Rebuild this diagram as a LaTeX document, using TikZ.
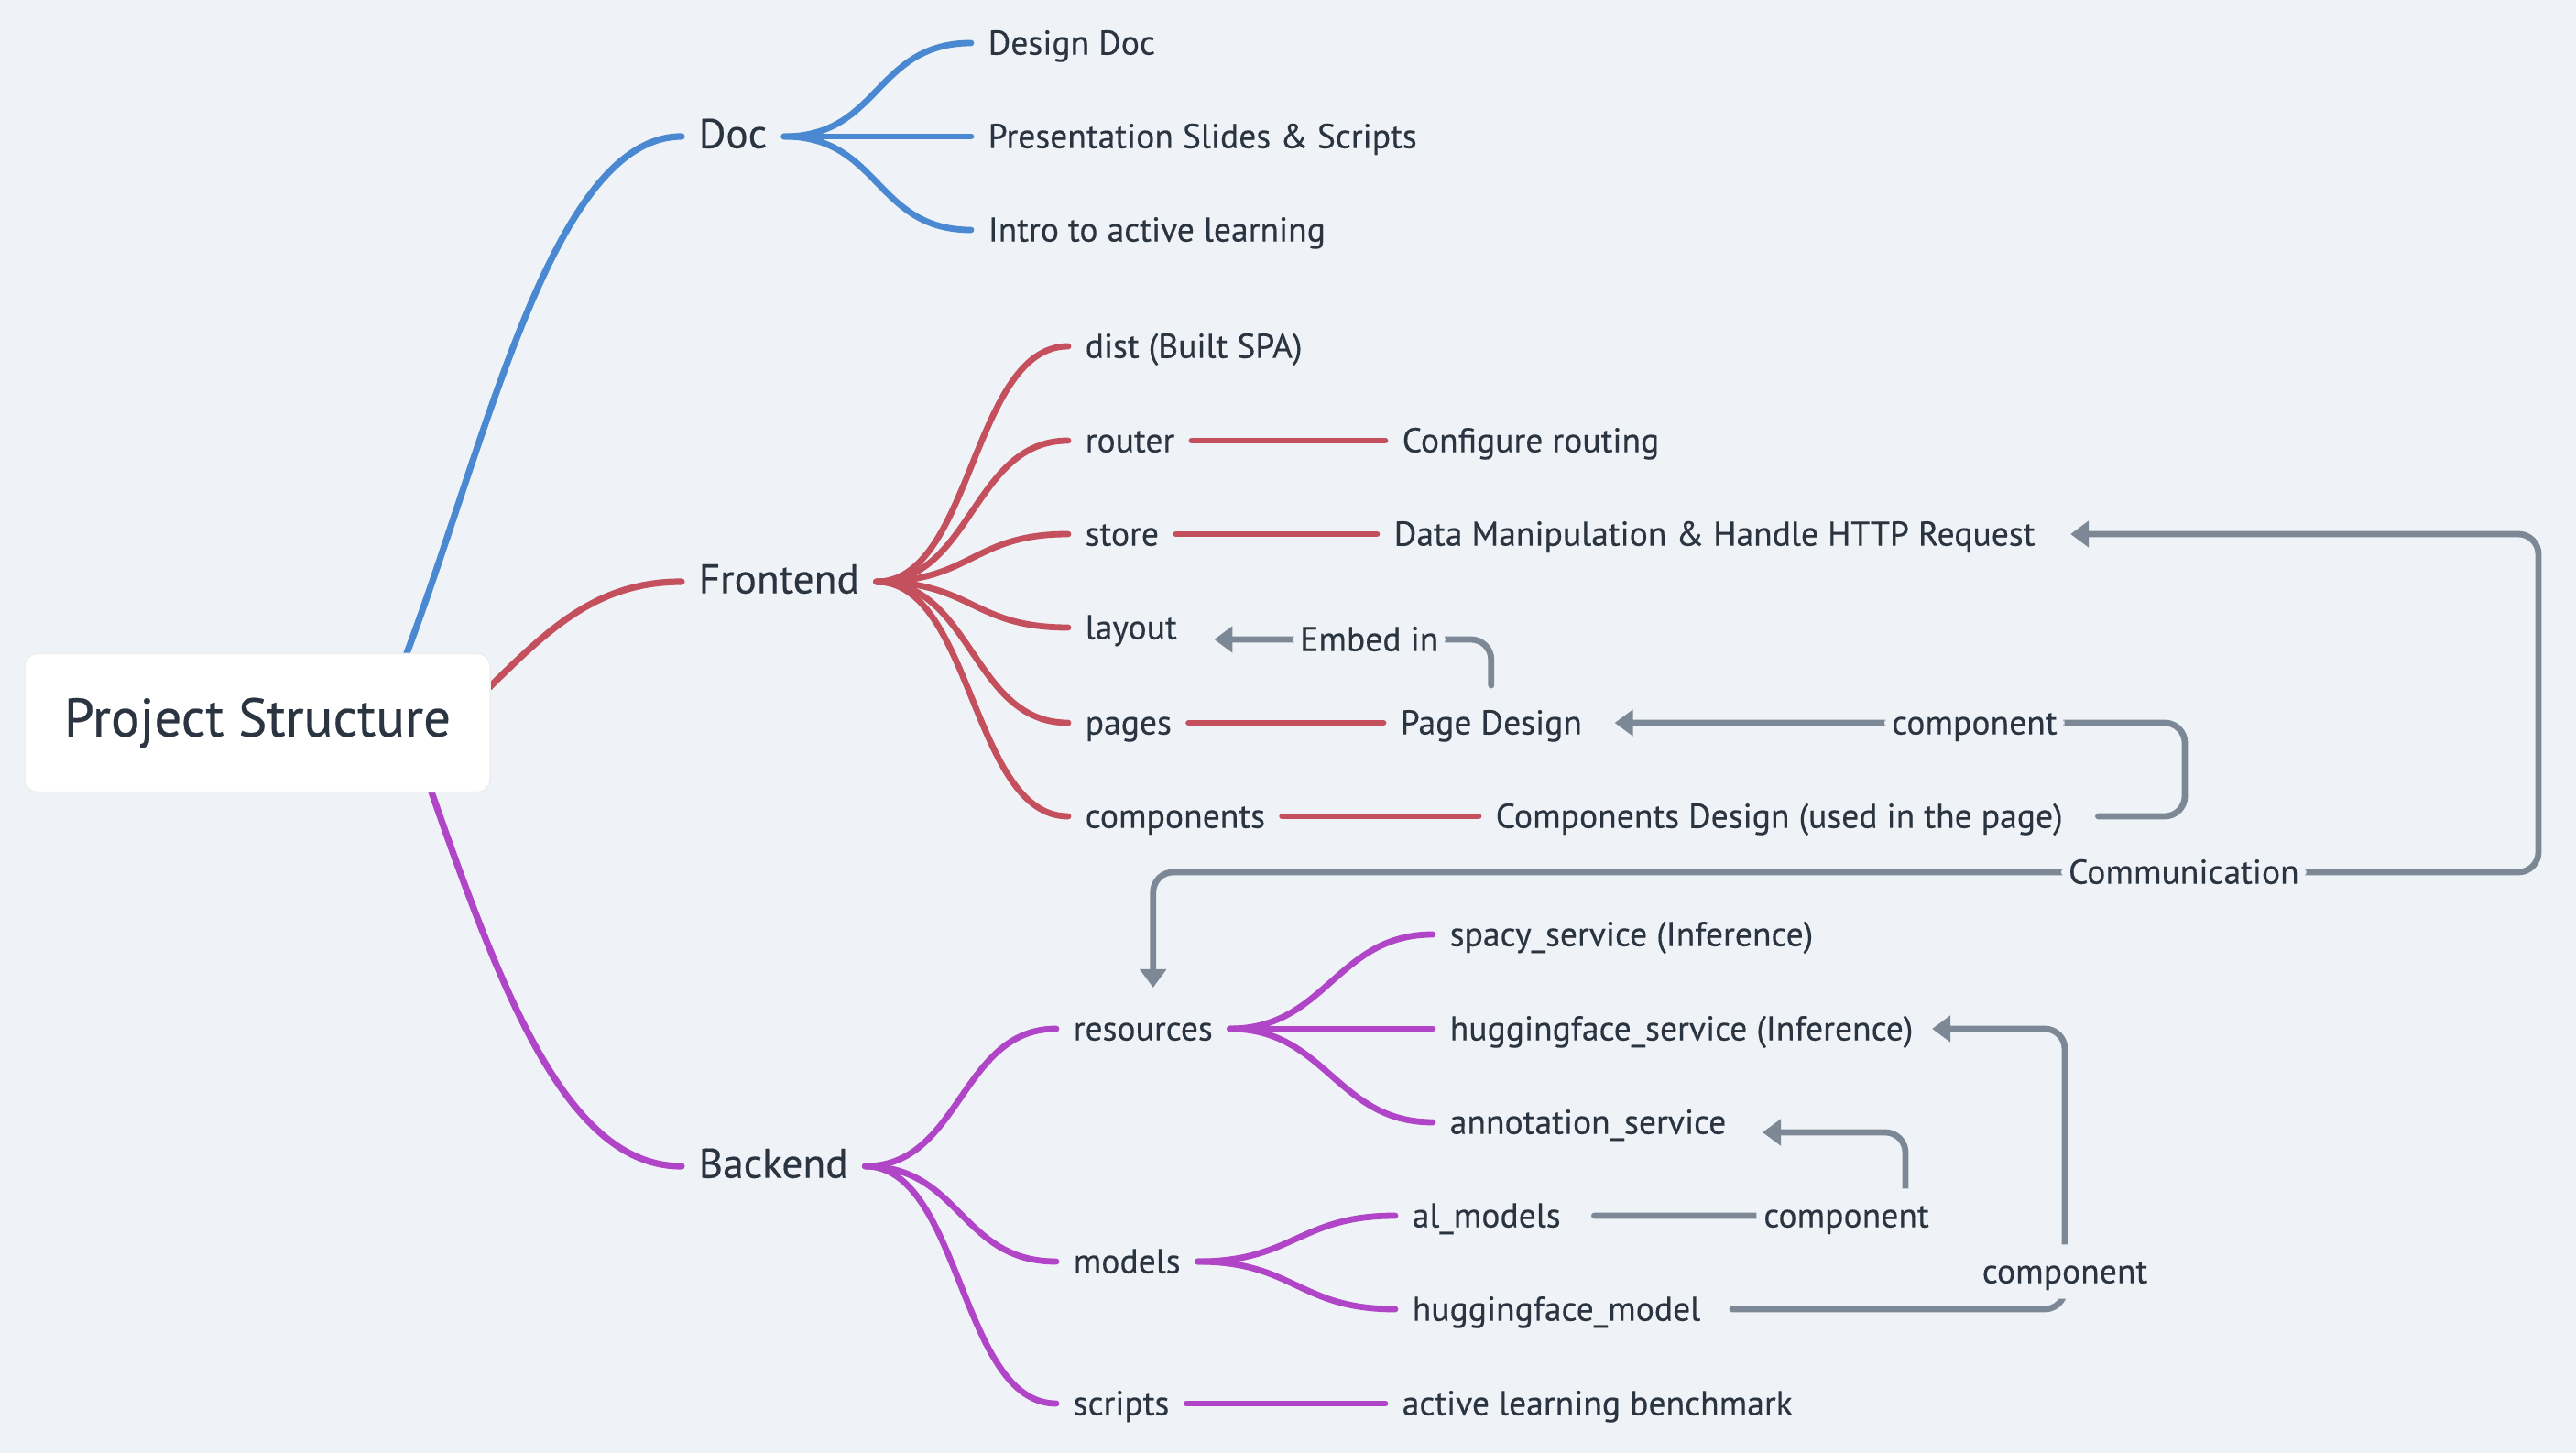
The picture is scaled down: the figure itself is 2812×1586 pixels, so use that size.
\documentclass[tikz,border=0pt]{standalone}
\usepackage{fontspec}
\setmainfont{PT Sans}[FakeBold=0.35]
\newfontfamily\medfont{PT Sans}[FakeBold=0.35]
\usetikzlibrary{arrows.meta,calc}
\definecolor{bgc}{HTML}{EFF3F7}
\definecolor{txt}{HTML}{2B3541}
\definecolor{cblue}{HTML}{4A88D2}
\definecolor{cred}{HTML}{C4505E}
\definecolor{cpur}{HTML}{B045C8}
\definecolor{cgray}{HTML}{7D8896}
\pgfdeclarelayer{bglayer}
\pgfsetlayers{bglayer,main}
\newcommand\brc[3]{\draw[br,#1] (#2.east) .. controls +(105,0) and +(-105,0) .. (#3.west);}
\begin{document}
\begin{tikzpicture}[x=0.01cm,y=-0.01cm,
  every node/.style={text=txt,font=\medfont\fontsize{10.7}{13}\selectfont},
  leaf/.style={anchor=west,inner xsep=0.18cm,inner ysep=0.05cm,text height=0.72em,text depth=0pt},
  lvone/.style={leaf,font=\medfont\fontsize{12.9}{15}\selectfont},
  rootbox/.style={fill=white,draw=black!7,line width=0.4pt,rounded corners=0.14cm,minimum width=5.08cm,minimum height=1.51cm,font=\medfont\fontsize{16.8}{20}\selectfont},
  br/.style={line width=0.068cm,line cap=round},
  rel/.style={draw=cgray,line width=0.068cm,line cap=round,rounded corners=0.22cm},
  tip/.style={-{Triangle[length=0.2cm,width=0.28cm]}},
  tiptwo/.style={{Triangle[length=0.2cm,width=0.28cm]}-{Triangle[length=0.2cm,width=0.28cm]}},
  lab/.style={fill=bgc,inner xsep=0.08cm,inner ysep=0.17cm,text height=0.72em,text depth=0pt}
]
% root
\node[rootbox] (root) at (281,789) {Project Structure};

% level one
\node[lvone] (doc) at (744,149) {Doc};
\node[lvone] (fe) at (744,635) {Frontend};
\node[lvone] (be) at (744,1273) {Backend};

% doc leaves
\node[leaf] (dd) at (1060,47) {Design Doc};
\node[leaf] (ps) at (1060,149) {Presentation Slides \& Scripts};
\node[leaf] (ia) at (1060,251) {Intro to active learning};

% frontend
\node[leaf] (dist) at (1166,378) {dist (Built SPA)};
\node[leaf] (router) at (1166,481) {router};
\node[leaf] (store) at (1166,583) {store};
\node[leaf] (layout) at (1166,685) {layout};
\node[leaf] (pages) at (1166,789) {pages};
\node[leaf] (comps) at (1166,891) {components};
\node[leaf] (cr) at (1512,481) {Configure routing};
\node[leaf] (dm) at (1503,583) {Data Manipulation \& Handle HTTP Request};
\node[leaf] (pd) at (1510,789) {Page Design};
\node[leaf] (cd) at (1614,891) {Components Design (used in the page)};

% backend
\node[leaf] (res) at (1153,1123) {resources};
\node[leaf] (models) at (1153,1377) {models};
\node[leaf] (scripts) at (1153,1532) {scripts};
\node[leaf] (spacy) at (1564,1020) {spacy\_service (Inference)};
\node[leaf] (hfs) at (1564,1123) {huggingface\_service (Inference)};
\node[leaf] (ann) at (1564,1225) {annotation\_service};
\node[leaf] (alm) at (1523,1327) {al\_models};
\node[leaf] (hfm) at (1523,1429) {huggingface\_model};
\node[leaf] (alb) at (1512,1532) {active learning benchmark};

\begin{pgfonlayer}{bglayer}
\fill[bgc] (0,0) rectangle (2812,1586);
\draw[br,cblue,line width=0.072cm] ($(root.center)+(140,-18)$) .. controls +(99,-233) and +(-152,0) .. (doc.west);
\draw[br,cred,line width=0.072cm] ($(root.center)+(203,9)$) .. controls +(90,-81) and +(-116,0) .. (fe.west);
\draw[br,cpur,line width=0.072cm] ($(root.center)+(167,9)$) .. controls +(90,260) and +(-134,0) .. (be.west);
\end{pgfonlayer}

% branches
\brc{cblue}{doc}{dd}
\brc{cblue}{doc}{ps}
\brc{cblue}{doc}{ia}
\brc{cred}{fe}{dist}
\brc{cred}{fe}{router}
\brc{cred}{fe}{store}
\brc{cred}{fe}{layout}
\brc{cred}{fe}{pages}
\brc{cred}{fe}{comps}
\brc{cred}{router}{cr}
\brc{cred}{store}{dm}
\brc{cred}{pages}{pd}
\brc{cred}{comps}{cd}
\brc{cpur}{be}{res}
\brc{cpur}{be}{models}
\brc{cpur}{be}{scripts}
\brc{cpur}{res}{spacy}
\brc{cpur}{res}{hfs}
\brc{cpur}{res}{ann}
\brc{cpur}{models}{alm}
\brc{cpur}{models}{hfm}
\brc{cpur}{scripts}{alb}

% relationships
\draw[rel,tip] ($(pd.center)+(0,-41)$) -- ++(0,-50) -- node[lab,pos=0.44,inner ysep=0.05cm]{Embed in} ($(layout.east)+(22,13)$);
\draw[rel,tip] ($(cd.east)+(20,0)$) -- (2385,891) -- (2385,789) -- node[lab,pos=0.369,inner ysep=0.05cm]{component} ($(pd.east)+(17,0)$);
\draw[rel,tiptwo] ($(dm.east)+(20,0)$) -- (2771,583) -- (2771,952) -| node[lab,pos=0.128,inner ysep=0.05cm]{Communication} ($(res.center)+(11,-45)$);
\draw[rel,tip] ($(alm.east)+(18,0)$) -- node[lab,pos=0.81]{component} (2080,1327) -- (2080,1236) -- ($(ann.east)+(21,11)$);
\draw[rel,tip] ($(hfm.east)+(16,0)$) -- (2254,1429) -- node[lab,pos=0.134]{component} (2254,1123) -- ($(hfs.east)+(2,0)$);
\end{tikzpicture}
\end{document}
